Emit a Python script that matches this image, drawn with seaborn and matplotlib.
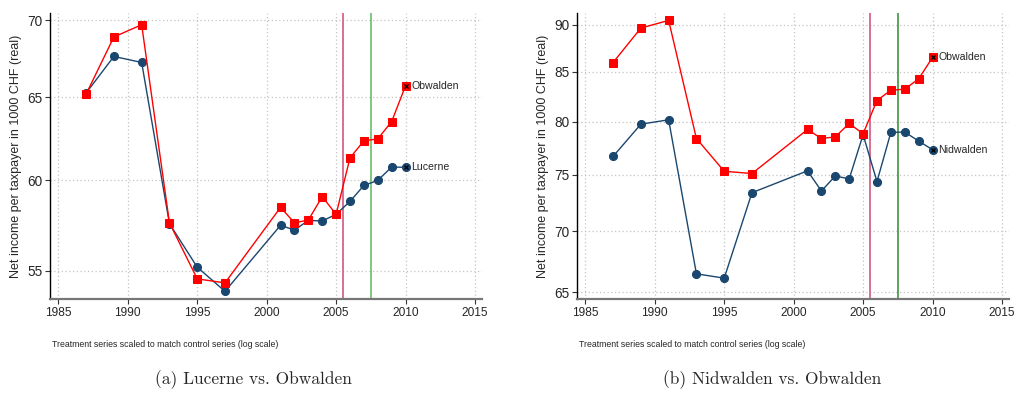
import numpy as np
import pandas as pd
import matplotlib
matplotlib.use("Agg")
import matplotlib.pyplot as plt
import seaborn as sns
from matplotlib.ticker import FixedLocator, NullLocator, FixedFormatter

years = [1987, 1989, 1991, 1993, 1995, 1997, 2001, 2002, 2003, 2004,
         2005, 2006, 2007, 2008, 2009, 2010]

# Panel (a): Lucerne (control) vs. scaled Obwalden (treatment)
lucerne = [65.27, 67.61, 67.22, 57.55, 55.19, 53.92, 57.46, 57.20, 57.73, 57.70,
           58.07, 58.80, 59.71, 60.00, 60.78, 60.76]
obwalden_a = [65.20, 68.89, 69.71, 57.60, 54.57, 54.36, 58.46, 57.60, 57.75, 59.07,
              58.07, 61.32, 62.33, 62.45, 63.50, 65.73]

# Panel (b): Nidwalden (control) vs. scaled Obwalden (treatment)
nidwalden = [76.67, 79.74, 80.17, 66.46, 66.11, 73.36, 75.34, 73.51, 74.87, 74.60,
             78.73, 74.36, 78.95, 78.98, 78.12, 77.30]
obwalden_b = [85.96, 89.64, 90.48, 78.36, 75.30, 75.09, 79.23, 78.36, 78.52, 79.81,
              78.82, 82.07, 83.11, 83.21, 84.27, 86.49]

event_years = [2005.5, 2007.5]
x_ticks = [1985, 1990, 1995, 2000, 2005, 2010, 2015]
y_ticks_a = [55, 60, 65, 70]
y_ticks_b = [65, 70, 75, 80, 85, 90]

ylabel = "Net income per taxpayer in 1000 CHF (real)"
note = "Treatment series scaled to match control series (log scale)"
captions = ["(a) Lucerne vs. Obwalden", "(b) Nidwalden vs. Obwalden"]

sns.set_style("white")
plt.rcParams["font.family"] = ["Liberation Sans", "DejaVu Sans"]

RED = "#ff0000"
NAVY = "#1a476f"
PINK = "#d4658b"

fig = plt.figure(figsize=(10.14, 3.94), dpi=100)
axes = [fig.add_axes([0.0493, 0.241, 0.426, 0.726]),
        fig.add_axes([0.569, 0.241, 0.426, 0.726])]

panels = [
    (lucerne, "Lucerne", obwalden_a, y_ticks_a, (53.52, 70.5), "#5cb85c", 0.47),
    (nidwalden, "Nidwalden", obwalden_b, y_ticks_b, (64.45, 91.3), "#2e8b2e", 0.452),
]

for ax, (ctrl, ctrl_name, treat, yt, ylim, green, cap_x), cap in zip(axes, panels, captions):
    df = pd.DataFrame({"year": years, "control": ctrl, "treatment": treat})
    ax.set_yscale("log")
    ax.set_xlim(1984.4, 2015.5)
    ax.set_ylim(*ylim)

    for x in x_ticks:
        ax.axvline(x, color="#c4c4c4", lw=0.9, ls=(0, (1, 2)), zorder=0)
    for y in yt:
        ax.axhline(y, color="#c4c4c4", lw=0.9, ls=(0, (1, 2)), zorder=0)

    ax.axvline(event_years[0], color=PINK, lw=1.3, zorder=1)
    ax.axvline(event_years[1], color=green, lw=1.1, zorder=1)

    sns.lineplot(data=df, x="year", y="control", ax=ax, color=NAVY, lw=1.0,
                 marker="o", markersize=5.8, markeredgecolor=NAVY, zorder=3)
    sns.lineplot(data=df, x="year", y="treatment", ax=ax, color=RED, lw=1.0,
                 marker="s", markersize=5.8, markeredgecolor=RED, zorder=4)

    # end-of-series markers and labels
    ax.plot(years[-1], ctrl[-1], marker="x", color="black", ms=3, mew=0.9, zorder=5)
    ax.plot(years[-1], treat[-1], marker="x", color="black", ms=3, mew=0.9, zorder=5)
    ax.annotate(ctrl_name, (years[-1], ctrl[-1]), xytext=(4, 0),
                textcoords="offset points", va="center", ha="left", fontsize=7.6)
    ax.annotate("Obwalden", (years[-1], treat[-1]), xytext=(4, 0),
                textcoords="offset points", va="center", ha="left", fontsize=7.6)

    ax.yaxis.set_major_locator(FixedLocator(yt))
    ax.yaxis.set_major_formatter(FixedFormatter([str(v) for v in yt]))
    ax.yaxis.set_minor_locator(NullLocator())
    ax.set_xticks(x_ticks)
    ax.set_xticklabels([str(v) for v in x_ticks])

    ax.set_xlabel("")
    ax.set_ylabel(ylabel, fontsize=9, labelpad=4)
    ax.tick_params(axis="both", labelsize=8.6, length=3.5, width=0.8,
                   color="#333333", pad=2, left=True, bottom=True)
    ax.tick_params(axis="y", labelsize=9.8)

    for side in ("top", "right"):
        ax.spines[side].set_visible(False)
    ax.spines["left"].set_color("black")
    ax.spines["left"].set_linewidth(1.0)
    ax.spines["bottom"].set_color("#777777")
    ax.spines["bottom"].set_linewidth(1.6)

    ax.text(0.005, -0.158, note, transform=ax.transAxes, fontsize=6.3,
            ha="left", va="center")
    ax.text(cap_x, -0.283, cap, transform=ax.transAxes, fontsize=12.5,
            ha="center", va="center", family="cmr10")

fig.savefig("out.png", dpi=100, facecolor="white")
